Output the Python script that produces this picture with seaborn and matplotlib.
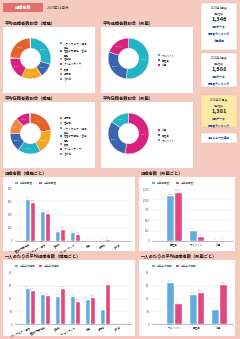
import numpy as np
import pandas as pd
import seaborn as sns
import matplotlib.pyplot as plt
from matplotlib.patches import Rectangle

W, H = 240, 339

# ---- data ----
donut1_labels = ["ソフトウェア・通信\n関係", "管理部門事務・営業\n事務", "営業職", "クリエイティブ", "販売", "専門職", "その他"]
donut1_values = [29.6, 11.2, 16.4, 17.8, 0.6, 24.0, 0.4]
donut2_labels = ["アルバイト", "正社員", "派遣"]
donut2_values = [51.8, 28.4, 19.8]
donut3_labels = ["専門職", "営業職", "ソフトウェア・通信\n関係", "管理部門事務・営業\n事務", "販売", "クリエイティブ", "その他"]
donut3_values = [22.6, 19.4, 18.2, 14.6, 13.1, 11.3, 0.8]
donut4_labels = ["派遣", "正社員", "アルバイト"]
donut4_values = [52.8, 32.0, 15.2]

job_cats = ["管理部門事務系", "ソフトウェア・通信", "営業職", "クリエイティブ", "販売", "専門職", "その他"]
job_prev = [630, 460, 145, 134, 16, 4, 0]
job_cur = [595, 420, 178, 112, 20, 30, 0]

form_cats = ["正社員", "アルバイト", "派遣"]
form_prev = [1097, 266, 16]
form_cur = [1185, 129, 32]

pp_job_cats = ["ソフトウェア・通信", "管理部門事務系", "営業職", "クリエイティブ", "販売", "専門職", "その他"]
pp_job_prev = [28.6, 23.9, 22.1, 21.6, 19.7, 11.4, 0]
pp_job_cur = [26.5, 23.1, 28.3, 18.2, 21.0, 31.2, 0]

pp_form_cats = ["アルバイト", "正社員", "派遣"]
pp_form_prev = [33.0, 23.4, 11.7]
pp_form_cur = [16.1, 25.2, 31.2]

count_names = ["前年退職者", "今年退職者"]
pp_names = ["前年平均退職", "今年平均退職"]

cards = [
    ("2020年3月度", "1,346", ["店舗データ", "退職者ランキング", "派遣情報"]),
    ("2020年1月度", "1,588", ["店舗データ", "退職者ランキング"]),
    ("2019年12月度", "1,381", ["店舗データ", "退職者ランキング"]),
]

# ---- style ----
COLORS = {
    "ソフトウェア・通信\n関係": "#25b3c7", "管理部門事務・営業\n事務": "#3a66b0",
    "営業職": "#f5a623", "クリエイティブ": "#d8227e", "販売": "#f0883f",
    "専門職": "#e6612b", "その他": "#7d8b99",
    "アルバイト": "#25b3c7", "正社員": "#3a66b0", "派遣": "#d8227e",
}
BLUE, PINK = "#62abe2", "#e2477f"
BG = "#f6cbbf"
LINK = "#1f3d9e"

sns.set_theme(style="white")
plt.rcParams['font.family'] = ['Noto Sans CJK JP', 'DejaVu Sans']

fig = plt.figure(figsize=(W / 100, H / 100), dpi=100)
fig.patch.set_facecolor(BG)


def px(x, y, w, h):
    return [x / W, 1 - (y + h) / H, w / W, h / H]


def box(x, y, w, h, fc="white", ec="none", z=-1):
    fig.add_artist(Rectangle((x / W, 1 - (y + h) / H), w / W, h / H,
                             transform=fig.transFigure, fc=fc, ec=ec, lw=0.3,
                             zorder=z))


def txt(x, y, s, size=2.5, va="center", **kw):
    fig.text(x / W, 1 - y / H, s, fontsize=size, va=va, zorder=5, **kw)


# header
box(3, 3, 40, 9, fc="#e27070")
txt(23, 7.5, "退職者数", 3.0, color="white", ha="center", fontweight="bold")
txt(47, 7.5, "2019年12月末", 2.6, color="#333")


def donut(bx, by, title, labels, values, legend_y):
    box(bx, by, 92, 66)
    txt(bx + 2, by - 4, title, 3.1, fontweight="bold", color="#222")
    ax = fig.add_axes(px(bx + 2, by + 6, 51, 51))
    ax.set_facecolor("none")
    cols = [COLORS[l] for l in labels]
    ax.pie(values, colors=cols, startangle=90, counterclock=False,
           wedgeprops=dict(width=0.5, edgecolor="white", linewidth=0.3),
           autopct=lambda p: f"{p:.1f}%" if p > 5 else "", pctdistance=0.75,
           textprops=dict(color="white", fontsize=1.7))
    ax.set_aspect("equal")
    y = legend_y
    for l, c in zip(labels, cols):
        box(bx + 57, y - 1.2, 2.4, 2.4, fc=c, z=3)
        two = "\n" in l
        txt(bx + 61, y - 1.3 if two else y, l, 1.9, va="top" if two else "center",
            color="#333", linespacing=1.1)
        y += 8 if two else 5


donut(3, 27, "平均退職者数割合（職種）", donut1_labels, donut1_values, 43)
donut(101, 27, "平均退職者数割合（形態）", donut2_labels, donut2_values, 55)
donut(3, 102, "平均在籍者数割合（職種）", donut3_labels, donut3_values, 118)
donut(101, 102, "平均在籍者数割合（形態）", donut4_labels, donut4_values, 130)

# side cards
card_pos = [(3, 47), (53, 34), (95, 32)]
for i, ((ty, th), (head, num, links)) in enumerate(zip(card_pos, cards)):
    box(201, ty, 36, th, fc="#fde9a6" if i == 2 else "white", ec="#e8b0a4")
    txt(219, ty + 4.5, head, 2.1, ha="center", color="#333")
    txt(219, ty + 10, "退職者数", 1.8, ha="center", color="#555")
    txt(219, ty + 16, num, 4.2, ha="center", color="#222", fontweight="bold")
    for j, l in enumerate(links):
        txt(219, ty + 24 + j * 7, l, 2.0, ha="center", color=LINK,
            fontweight="bold")
box(201, 133, 36, 10, ec="#e8b0a4")
txt(219, 138, "過去ニュース情報", 2.0, ha="center", color=LINK, fontweight="bold")


def bar_panel(bx, bw, by, bh, title, ax_r, cats, prev, cur, names, ymax, step,
              fmt, rot, xlim, leg_y):
    box(bx, by, bw, bh)
    txt(bx + 2, by - 4, title, 3.1, fontweight="bold", color="#222")
    ax = fig.add_axes(px(*ax_r))
    ax.set_facecolor("none")
    df = pd.DataFrame({
        "cat": cats + cats,
        "series": [names[0]] * len(cats) + [names[1]] * len(cats),
        "value": prev + cur,
    })
    sns.barplot(data=df, x="cat", y="value", hue="series", palette=[BLUE, PINK],
                ax=ax, width=0.68, saturation=1, legend=False)
    for cont, vals, c in zip(ax.containers, [prev, cur], [BLUE, PINK]):
        ax.bar_label(cont, labels=[fmt(v) if v > 0 else "" for v in vals],
                     fontsize=1.6, color=c, padding=0.6)
    ax.set_ylim(0, ymax)
    ticks = np.arange(0, ymax + 1, step)
    ax.set_yticks(ticks)
    ax.set_yticklabels([f"{t:,.0f}" for t in ticks])
    ax.set_xlim(*xlim)
    ax.set_xlabel("")
    ax.set_ylabel("")
    ax.yaxis.grid(True, color="#e2e2e2", lw=0.3)
    ax.set_axisbelow(True)
    for s in ["top", "right", "left"]:
        ax.spines[s].set_visible(False)
    ax.spines["bottom"].set_color("#888")
    ax.spines["bottom"].set_linewidth(0.4)
    ax.tick_params(axis="y", labelsize=1.9, length=0, pad=2, colors="#555")
    ax.tick_params(axis="x", labelsize=1.8 if rot else 1.9, length=0, pad=1.2,
                   colors="#333")
    if rot:
        for t in ax.get_xticklabels():
            t.set_rotation(rot)
            t.set_ha("right")
            t.set_rotation_mode("anchor")
    lx = ax_r[0]
    box(lx, leg_y - 1.2, 3.2, 2.4, fc=BLUE, z=3)
    txt(lx + 4.5, leg_y, names[0], 1.9, color="#444")
    box(lx + 24, leg_y - 1.2, 3.2, 2.4, fc=PINK, z=3)
    txt(lx + 28.5, leg_y, names[1], 1.9, color="#444")


bar_panel(3, 132, 177, 74, "退職者数（職種ごと）", (15, 188, 116, 53),
          job_cats, job_prev, job_cur, count_names, 800, 200,
          lambda v: f"{v:,}", 28, (-1.0, 6.75), 183)
bar_panel(139, 96, 177, 74, "退職者数（形態ごと）", (152, 189, 81, 52),
          form_cats, form_prev, form_cur, count_names, 1250, 250,
          lambda v: f"{v:,}", 0, (-0.98, 2.62), 183)
bar_panel(3, 132, 260, 76, "一人あたりの平均退職者数（職種ごと）", (15, 273, 116, 51),
          pp_job_cats, pp_job_prev, pp_job_cur, pp_names, 40, 10,
          lambda v: f"{v:.1f}", 24, (-1.0, 6.75), 266)
bar_panel(139, 96, 260, 76, "一人あたりの平均退職者数（形態ごと）", (152, 273, 81, 51),
          pp_form_cats, pp_form_prev, pp_form_cur, pp_names, 40, 10,
          lambda v: f"{v:.1f}", 0, (-0.98, 2.62), 266)

fig.savefig("out.png", dpi=100, facecolor=BG)
